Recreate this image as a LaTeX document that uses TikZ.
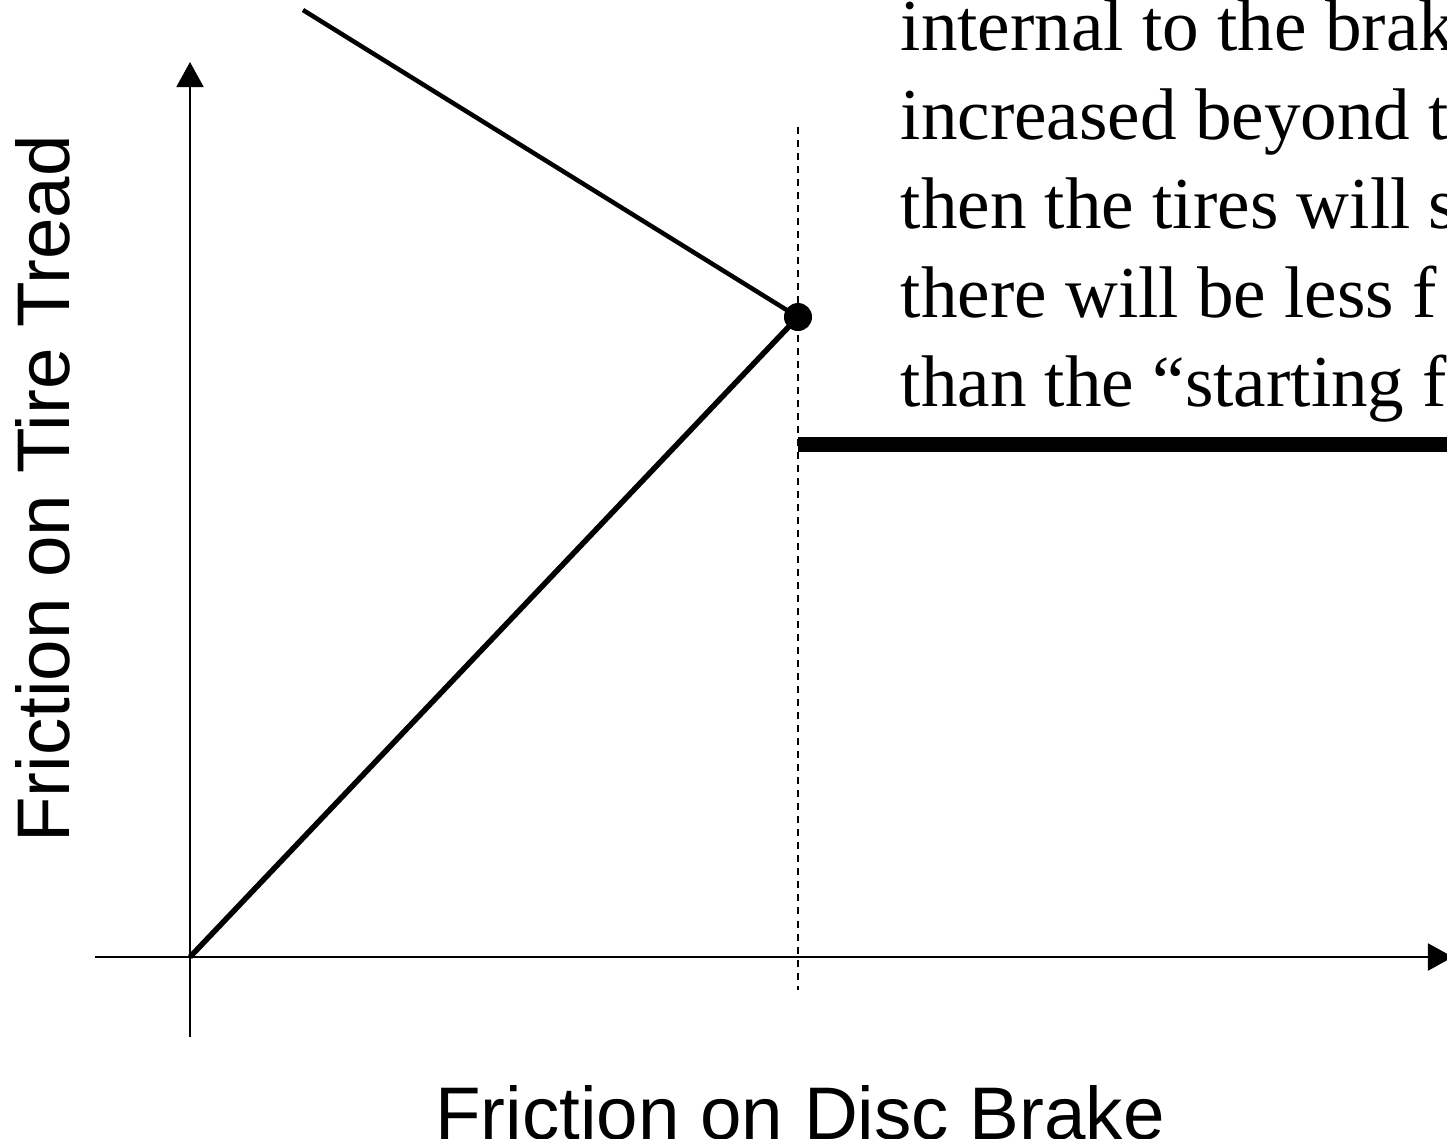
\documentclass[tikz,border=0pt]{standalone}
\usepackage{fontspec}
\setmainfont{Liberation Serif}
\setsansfont{Liberation Sans}
\usetikzlibrary{arrows.meta}

\begin{document}
\begin{tikzpicture}[x=0.01cm, y=-0.01cm,
			>={Triangle[length=0.25cm, width=0.27cm]},
			axis/.style={draw, line width=0.02cm},
			grip/.style={draw, line width=0.055cm},
			skid/.style={draw, line width=0.045cm},
			slip/.style={draw, line width=0.15cm},
			dashline/.style={draw, line width=0.015cm, dash pattern=on 0.07cm off 0.06cm},
			dot/.style={circle, fill=black, inner sep=0pt, minimum size=0.28cm},
			note/.style={anchor=base west, inner sep=0pt, align=left, font=\fontsize{20.8pt}{25.3pt}\selectfont},
			axislabel/.style={anchor=base, inner sep=0pt, font=\fontsize{21.2pt}{25pt}\sffamily}
			]
			\useasboundingbox (0,0) rectangle (1447,1138);
			\clip (0,0) rectangle (1447,1138);
			
			\coordinate (o) at (190,957);
			\coordinate (ytop) at (190,62);
			\coordinate (ybot) at (190,1037);
			\coordinate (xleft) at (95,957);
			\coordinate (xright) at (1453,957);
			\coordinate (dtop) at (798,127);
			\coordinate (dbot) at (798,990);
			\coordinate (top) at (303,10);
			\coordinate (slipstart) at (798,444);
			\coordinate (slipend) at (1460,444);
			
			\node [dot](peak) at (798,317) {};
			
			% base anchor sits on the last line
			\node [note](note) at (900,406) {internal to the brak\\increased beyond t\\then the tires will s\\there will be less f\\than the “starting f};
			
			\node [axislabel](xlab) at (800,1139) {Friction on Disc Brake};
			\node [axislabel, rotate=90](ylab) at (70,489) {Friction on Tire Tread};
			
			\draw[axis, ->] (ybot) -- (ytop);
			\draw[axis, ->] (xleft) -- (xright);
			\draw[dashline] (dtop) -- (dbot);
			
			\draw[grip] (o) -- (peak.center);
			\draw[skid] (peak.center) -- (top);
			\draw[slip] (slipstart) -- (slipend);
		\end{tikzpicture}
\end{document}
